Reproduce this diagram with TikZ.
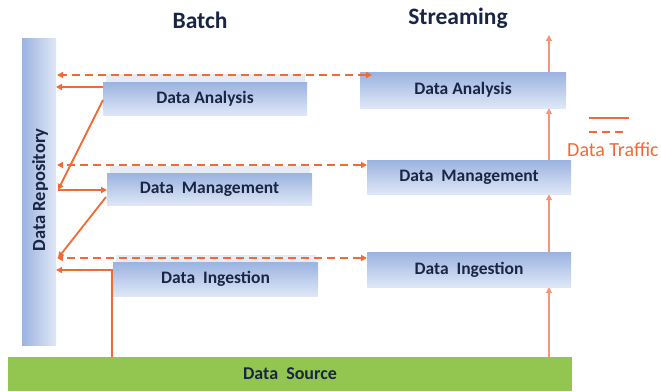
\documentclass[tikz,border=0pt]{standalone}
\usepackage{fontspec}
\setmainfont{Carlito}
\usetikzlibrary{arrows.meta}
\definecolor{boxtop}{HTML}{9BB3E0}
\definecolor{boxbot}{HTML}{DFE7F6}
\definecolor{txt}{HTML}{1A2545}
\definecolor{orng}{HTML}{F06A35}
\definecolor{salmon}{HTML}{F4957A}
\definecolor{grn}{HTML}{92C650}
\definecolor{stripc}{HTML}{E6ECF4}
\begin{document}
\begin{tikzpicture}[x=1pt,y=-1pt,
  box/.style={draw=none, top color=boxtop, bottom color=boxbot, inner sep=0pt,
    text=txt, font=\fontsize{17.5}{17.5}\selectfont\bfseries},
  title/.style={text=txt, font=\fontsize{23.5}{23.5}\selectfont\bfseries},
  tip/.style={-{Triangle[length=6pt,width=6pt]}},
  solidarrow/.style={tip, draw=orng, line width=1.8pt},
  dasharrow/.style={{Triangle[length=6pt,width=6pt]}-{Triangle[length=6pt,width=6pt]}, draw=orng, line width=1.8pt, dash pattern=on 8pt off 5pt},
  streamarrow/.style={-{Triangle[length=6pt,width=6pt]}, draw=salmon, line width=2.2pt},
  stripbox/.style={fill=stripc, draw=none}
]
\useasboundingbox (0,0) rectangle (661,391);

% titles
\node[title] (tb) at (200,20) {Batch};
\node[title] (ts) at (458,18) {Streaming};

% repository and source
\node[draw=none, left color=boxtop, right color=boxbot, minimum width=34pt, minimum height=307pt, inner sep=0pt] (rep) at (39,191.5) {};
\node[rotate=90, text=txt, font=\fontsize{18.5}{18.5}\selectfont\bfseries] (reptext) at (40,190) {Data Repository};
\node[fill=grn, draw=none, minimum width=564pt, minimum height=34pt, inner sep=0pt, text=txt, font=\fontsize{18}{18}\selectfont\bfseries] (src) at (290,374) {Data\ \ Source};

% batch boxes with light strip
\fill[stripbox] (106,74) rectangle (305,82);
\fill[stripbox] (110,166) rectangle (310,173);
\fill[stripbox] (116,255) rectangle (316,262);
\node[box, minimum width=204pt, minimum height=33pt] (bDA) at (205,98.5) {Data Analysis};
\node[box, minimum width=205pt, minimum height=32pt] (bDM) at (209.5,189) {Data\ \ Management};
\node[box, minimum width=205pt, minimum height=34pt] (bDI) at (215.5,279) {Data\ \ Ingestion};

% streaming boxes
\node[box, minimum width=206pt, minimum height=36pt] (sDA) at (463,90) {Data Analysis};
\node[box, minimum width=204pt, minimum height=34pt] (sDM) at (469,177) {Data\ \ Management};
\node[box, minimum width=204pt, minimum height=35pt] (sDI) at (469,269.5) {Data\ \ Ingestion};

% coordinates
\coordinate (d1L) at (57,75);   \coordinate (d1R) at (372,75);
\coordinate (d2L) at (57,165);  \coordinate (d2R) at (367,165);
\coordinate (d3L) at (57,258);  \coordinate (d3R) at (367,258);
\coordinate (r1) at (56,87);    \coordinate (a1) at (103,87);
\coordinate (a2) at (103,100);  \coordinate (r2) at (58,190);
\coordinate (m1) at (107,190);  \coordinate (m2) at (106,197);
\coordinate (r3) at (58,258);
\coordinate (s1) at (112,357);  \coordinate (r4) at (56,270);
\coordinate (top) at (549,35);
\coordinate (srcA) at (549,357);

% dashed data traffic
\draw[dasharrow] (d1R) -- (d1L);
\draw[dasharrow] (d2R) -- (d2L);
\draw[dasharrow] (d3R) -- (d3L);

% solid batch arrows
\draw[solidarrow] (a1) -- (r1);
\draw[solidarrow] (a2) -- (r2);
\draw[solidarrow] (r2) -- (m1);
\draw[solidarrow] (m2) -- (r3);
\draw[solidarrow] (s1) |- (r4);

% streaming arrows
\draw[streamarrow] (srcA) -- (srcA |- sDI.south);
\draw[streamarrow] (srcA |- sDI.north) -- (srcA |- sDM.south);
\draw[streamarrow] (srcA |- sDM.north) -- (srcA |- sDA.south);
\draw[streamarrow] (srcA |- sDA.north) -- (top);

% legend
\coordinate (l1a) at (589,118); \coordinate (l1b) at (629,118);
\coordinate (l2a) at (589,132); \coordinate (l2b) at (625,132);
\draw[orng, line width=1.8pt] (l1a) -- (l1b);
\draw[orng, line width=1.8pt, dash pattern=on 8pt off 5pt] (l2a) -- (l2b);
\node[anchor=base west, inner sep=0pt, text=orng, font=\fontsize{20}{20}\selectfont] (leg) at (567,156) {Data Traffic};
\end{tikzpicture}
\end{document}
